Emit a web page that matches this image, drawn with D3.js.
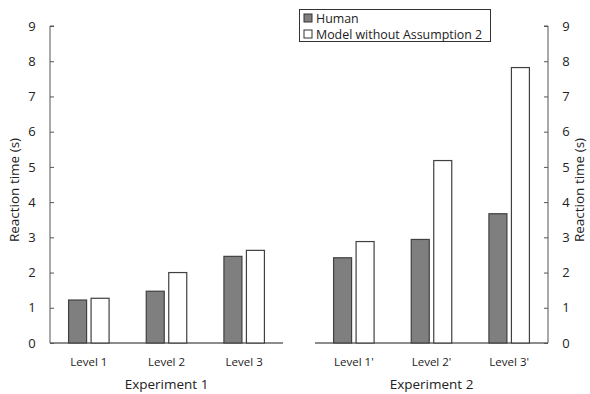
<!DOCTYPE html>
<html><head><meta charset="utf-8">
<script src="https://cdn.jsdelivr.net/npm/d3@7"></script>
<style>body{margin:0;background:#fff}svg{display:block}text{font-family:"Open Sans",sans-serif;fill:#222}</style>
</head><body><svg id="c" width="590" height="394"></svg>
<script>
const exp1Levels = ["Level 1", "Level 2", "Level 3"];
const exp2Levels = ["Level 1'", "Level 2'", "Level 3'"];
const exp1Human = [1.22, 1.47, 2.46];
const exp1Model = [1.27, 2.00, 2.63];
const exp2Human = [2.42, 2.94, 3.67];
const exp2Model = [2.88, 5.18, 7.82];
const yTicks = [0,1,2,3,4,5,6,7,8,9];
const seriesNames = ["Human", "Model without Assumption 2"];
const seriesFill = ["#7f7f7f", "#ffffff"];

const svg = d3.select("#c");
const y = d3.scaleLinear().domain([0, 9]).range([343, 26]);

function panel(x0, x1, levels, human, model, title) {
  const x = d3.scaleBand().domain(levels).range([x0, x1]);
  const g = svg.append("g");
  g.append("line").attr("x1", x0).attr("x2", x1).attr("y1", y(0)).attr("y2", y(0))
    .attr("stroke", "#8c8c8c").attr("stroke-width", 2);
  levels.forEach((lv, i) => {
    const c = x(lv) + x.bandwidth() / 2;
    const bw = 18, gap = 4.5;
    g.append("rect").attr("x", c - gap/2 - bw).attr("width", bw)
      .attr("y", y(human[i])).attr("height", y(0) - y(human[i]))
      .attr("fill", seriesFill[0]).attr("stroke", "#404040").attr("stroke-width", 1.2);
    g.append("rect").attr("x", c + gap/2).attr("width", bw)
      .attr("y", y(model[i])).attr("height", y(0) - y(model[i]))
      .attr("fill", seriesFill[1]).attr("stroke", "#404040").attr("stroke-width", 1.2);
    g.append("text").attr("x", c).attr("y", 366).attr("text-anchor", "middle")
      .attr("font-size", 11.5).text(lv);
  });
  g.append("text").attr("x", (x0 + x1) / 2).attr("y", 389).attr("text-anchor", "middle")
    .attr("font-size", 13.5).text(title);
}

panel(50, 283, exp1Levels, exp1Human, exp1Model, "Experiment 1");
panel(315, 548, exp2Levels, exp2Human, exp2Model, "Experiment 2");

const la = svg.append("g").attr("transform", "translate(50,0)")
  .call(d3.axisRight(y).tickValues(yTicks).tickSize(4).tickFormat(d3.format("d")));
la.select(".domain").attr("d", `M4,${y(9)}H0V${y(0)}`).attr("stroke", "#555");
la.selectAll(".tick line").attr("stroke", "#555");
la.selectAll(".tick text").attr("x", -18).attr("text-anchor", "middle").attr("font-size", 13).attr("fill", "#222");

const ra = svg.append("g").attr("transform", "translate(548,0)")
  .call(d3.axisLeft(y).tickValues(yTicks).tickSize(4).tickFormat(d3.format("d")));
ra.select(".domain").attr("d", `M-4,${y(9)}H0V${y(0)}`).attr("stroke", "#555");
ra.selectAll(".tick line").attr("stroke", "#555");
ra.selectAll(".tick text").attr("x", 18).attr("text-anchor", "middle").attr("font-size", 13).attr("fill", "#222");
svg.selectAll(".tick text").attr("font-family", "'Open Sans',sans-serif");

svg.append("text").attr("transform", "translate(19,190) rotate(-90)").attr("text-anchor", "middle")
  .attr("font-size", 13.5).text("Reaction time (s)");
svg.append("text").attr("transform", "translate(584,190) rotate(-90)").attr("text-anchor", "middle")
  .attr("font-size", 13.5).text("Reaction time (s)");

const lg = svg.append("g");
lg.append("rect").attr("x", 299.5).attr("y", 9.5).attr("width", 191).attr("height", 32)
  .attr("fill", "#fff").attr("stroke", "#333");
seriesNames.forEach((n, i) => {
  lg.append("rect").attr("x", 304).attr("y", 14 + i * 16).attr("width", 8).attr("height", 8)
    .attr("fill", seriesFill[i]).attr("stroke", "#333");
  lg.append("text").attr("x", 316).attr("y", 22.5 + i * 16).attr("font-size", 12.4).text(n);
});
</script></body></html>
